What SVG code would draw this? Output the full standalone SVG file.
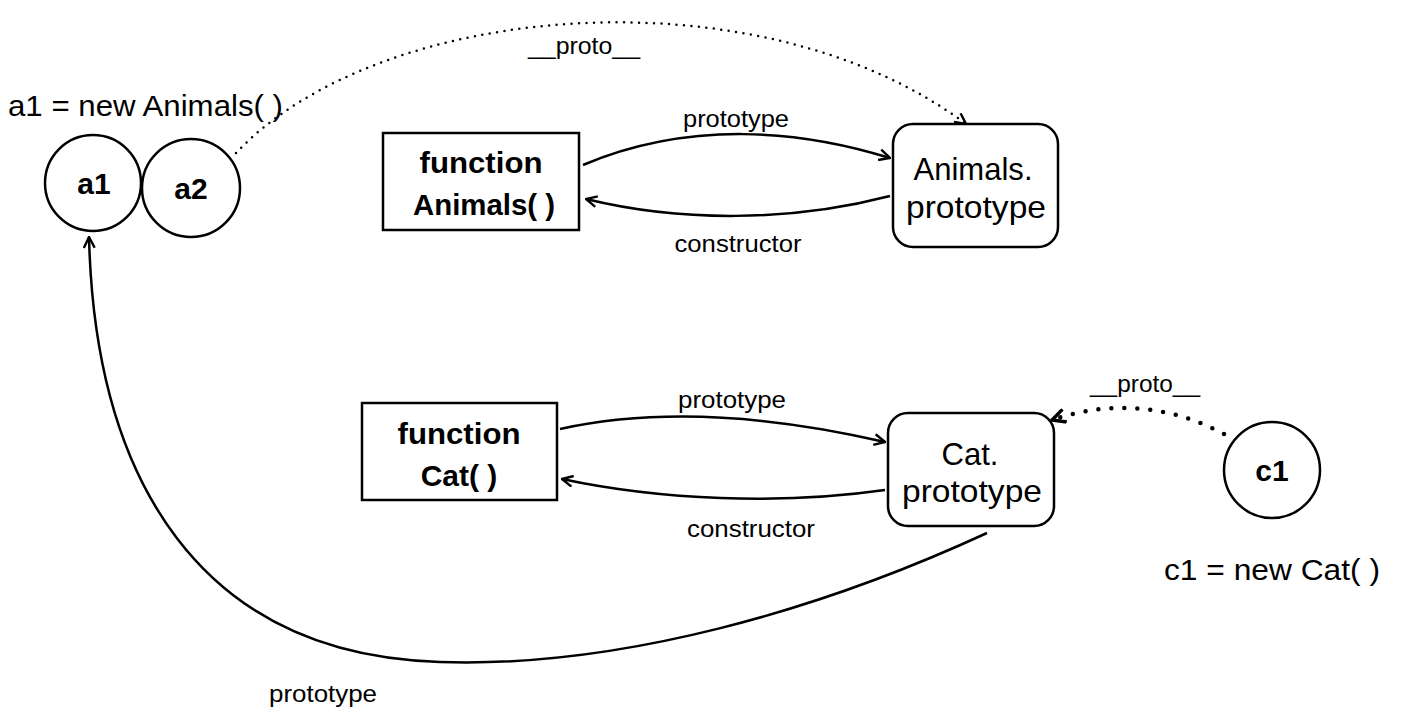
<svg xmlns="http://www.w3.org/2000/svg" width="1404" height="724" viewBox="0 0 1404 724">
  <style>
    .shape { fill: #fff; stroke: #000; stroke-width: 2.5; }
    .title { font-family: "Liberation Sans", Arial, sans-serif; font-size: 32px; fill: #000; text-anchor: middle; }
    .bold { font-weight: bold; font-size: 30px; }
    .label { font-family: "Liberation Sans", Arial, sans-serif; font-size: 24px; fill: #000; text-anchor: middle; }
    .note { font-family: "Liberation Sans", Arial, sans-serif; font-size: 30px; fill: #000; }
    .edge { fill: none; stroke: #000; stroke-width: 2.5; }
    .dots { fill: none; stroke: #000; stroke-width: 2.5; stroke-linecap: round; stroke-dasharray: 0 7.5; }
    .dots-bold { fill: none; stroke: #000; stroke-width: 4.5; stroke-linecap: round; stroke-dasharray: 0 13; }
  </style>
  <defs>
    <marker id="open" viewBox="0 0 12 12" refX="11" refY="6" markerWidth="13" markerHeight="13" markerUnits="userSpaceOnUse" orient="auto">
      <path d="M1,1 L11,6 L1,11" fill="none" stroke="#000" stroke-width="2.2"/>
    </marker>
    <marker id="open-big" viewBox="0 0 12 12" refX="11" refY="6" markerWidth="16" markerHeight="16" markerUnits="userSpaceOnUse" orient="auto">
      <path d="M1,1 L11,6 L1,11" fill="none" stroke="#000" stroke-width="2.6"/>
    </marker>
  </defs>

  <!-- connectors -->
  <g id="connectors">
    <path class="dots" d="M236,153 C380,0 760,-30 966,124" marker-end="url(#open)"/>
    <path class="edge" d="M583,165 C690,120 800,130 890,158" marker-end="url(#open)"/>
    <path class="edge" d="M890,196 C790,222 680,222 586,199" marker-end="url(#open)"/>
    <path class="edge" d="M560,429 C670,405 790,420 885,442" marker-end="url(#open)"/>
    <path class="edge" d="M885,490 C780,505 660,500 562,479" marker-end="url(#open)"/>
    <path class="dots-bold" d="M1224,434 C1170,405 1110,400 1052,420" marker-end="url(#open-big)"/>
    <path class="edge" d="M987,533 C820,610 620,668 440,662 C200,655 95,480 89,237" marker-end="url(#open)"/>
    <text class="label" x="584" y="54" textLength="112" lengthAdjust="spacingAndGlyphs">__proto__</text>
    <text class="label" x="736" y="127" textLength="106" lengthAdjust="spacingAndGlyphs">prototype</text>
    <text class="label" x="738" y="252" textLength="127" lengthAdjust="spacingAndGlyphs">constructor</text>
    <text class="label" x="732" y="408" textLength="108" lengthAdjust="spacingAndGlyphs">prototype</text>
    <text class="label" x="751" y="537" textLength="128" lengthAdjust="spacingAndGlyphs">constructor</text>
    <text class="label" x="1145" y="392" textLength="110" lengthAdjust="spacingAndGlyphs">__proto__</text>
    <text class="label" x="323" y="702" textLength="108" lengthAdjust="spacingAndGlyphs">prototype</text>
  </g>

  <!-- instances of Animals -->
  <text class="note" x="8" y="116" textLength="275" lengthAdjust="spacingAndGlyphs">a1 = new Animals( )</text>
  <g id="a1">
    <circle class="shape" cx="93" cy="183" r="48"/>
    <text class="title bold" x="94" y="194">a1</text>
  </g>
  <g id="a2">
    <circle class="shape" cx="191" cy="188" r="49"/>
    <text class="title bold" x="191" y="199">a2</text>
  </g>

  <!-- constructor function Animals -->
  <g id="fn-animals">
    <rect class="shape" x="383" y="133" width="196" height="97"/>
    <text class="title bold" x="481" y="173" textLength="123" lengthAdjust="spacingAndGlyphs">function</text>
    <text class="title bold" x="484" y="215" textLength="142" lengthAdjust="spacingAndGlyphs">Animals( )</text>
  </g>

  <!-- Animals.prototype object -->
  <g id="animals-prototype">
    <rect class="shape" x="893" y="124" width="165" height="123" rx="20"/>
    <text class="title" x="973" y="180" textLength="119" lengthAdjust="spacingAndGlyphs">Animals.</text>
    <text class="title" x="976" y="218" textLength="140" lengthAdjust="spacingAndGlyphs">prototype</text>
  </g>

  <!-- constructor function Cat -->
  <g id="fn-cat">
    <rect class="shape" x="362" y="403" width="195" height="97"/>
    <text class="title bold" x="459" y="444" textLength="123" lengthAdjust="spacingAndGlyphs">function</text>
    <text class="title bold" x="459" y="486">Cat( )</text>
  </g>

  <!-- Cat.prototype object -->
  <g id="cat-prototype">
    <rect class="shape" x="888" y="413" width="166" height="113" rx="20"/>
    <text class="title" x="970" y="465" textLength="57" lengthAdjust="spacingAndGlyphs">Cat.</text>
    <text class="title" x="972" y="502" textLength="140" lengthAdjust="spacingAndGlyphs">prototype</text>
  </g>

  <!-- instance of Cat -->
  <g id="c1">
    <circle class="shape" cx="1272" cy="470" r="48"/>
    <text class="title bold" x="1272" y="481">c1</text>
  </g>
  <text class="note" x="1164" y="580" textLength="216" lengthAdjust="spacingAndGlyphs">c1 = new Cat( )</text>
</svg>
